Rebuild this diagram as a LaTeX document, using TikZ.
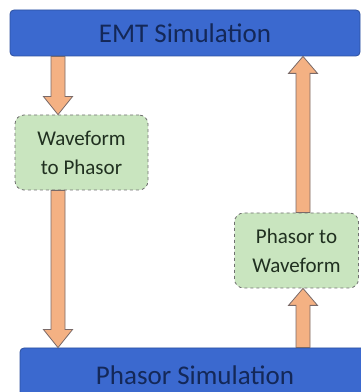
\documentclass[tikz,border=0pt]{standalone}
\usepackage{fontspec}
\setmainfont{Carlito}
\usetikzlibrary{calc}
\definecolor{simblue}{HTML}{3B69CF}
\definecolor{simborder}{HTML}{2C50A0}
\definecolor{simtext}{HTML}{142858}
\definecolor{convfill}{HTML}{C9E5BF}
\definecolor{convborder}{HTML}{707070}
\definecolor{convtext}{HTML}{203020}
\definecolor{arrfill}{HTML}{F4B183}
\definecolor{arrborder}{HTML}{7A6A68}
\tikzset{
  simbox/.style={draw=simborder, fill=simblue, rounded corners=4pt, line width=0.8pt,
    text=simtext, font=\fontsize{27}{30}\selectfont, inner sep=0pt},
  convbox/.style={draw=convborder, fill=convfill, dashed, rounded corners=9pt, line width=0.8pt,
    text=convtext, align=center, font=\fontsize{21}{29}\selectfont, inner sep=0pt},
  blockarrow/.style={draw=arrborder, fill=arrfill, line width=0.8pt, line join=miter}
}
% block arrow from #1 to #2 (vertical), #3 = head length with sign
\newcommand\fatarrow[3]{%
  \path[blockarrow] let \p1=(#1), \p2=(#2) in
    (\x1-7pt,\y1) -- (\x1-7pt,\y2+#3) -- (\x1-14.5pt,\y2+#3) -- (\x1,\y2)
    -- (\x1+14.5pt,\y2+#3) -- (\x1+7pt,\y2+#3) -- (\x1+7pt,\y1) -- cycle;}
\begin{document}
\begin{tikzpicture}[x=1pt,y=1pt]
\useasboundingbox (0,0) rectangle (360,392);
\node[simbox, minimum width=350, minimum height=46] (emt) at (185,359) {EMT Simulation};
\node[simbox, minimum width=350, minimum height=54] (phs) at (195,17) {Phasor Simulation};
\node[convbox, minimum width=133, minimum height=75] (wtp) at (81.5,239.5) {Waveform\\to Phasor};
\node[convbox, minimum width=124, minimum height=75] (ptw) at (296.5,141.5) {Phasor to\\Waveform};
\coordinate (lx) at (58,0);
\coordinate (rx) at (303,0);
\fatarrow{lx |- emt.south}{lx |- wtp.north}{18pt}
\fatarrow{lx |- wtp.south}{lx |- phs.north}{18pt}
\fatarrow{rx |- phs.north}{rx |- ptw.south}{-17pt}
\fatarrow{rx |- ptw.north}{rx |- emt.south}{-17pt}
\end{tikzpicture}
\end{document}
